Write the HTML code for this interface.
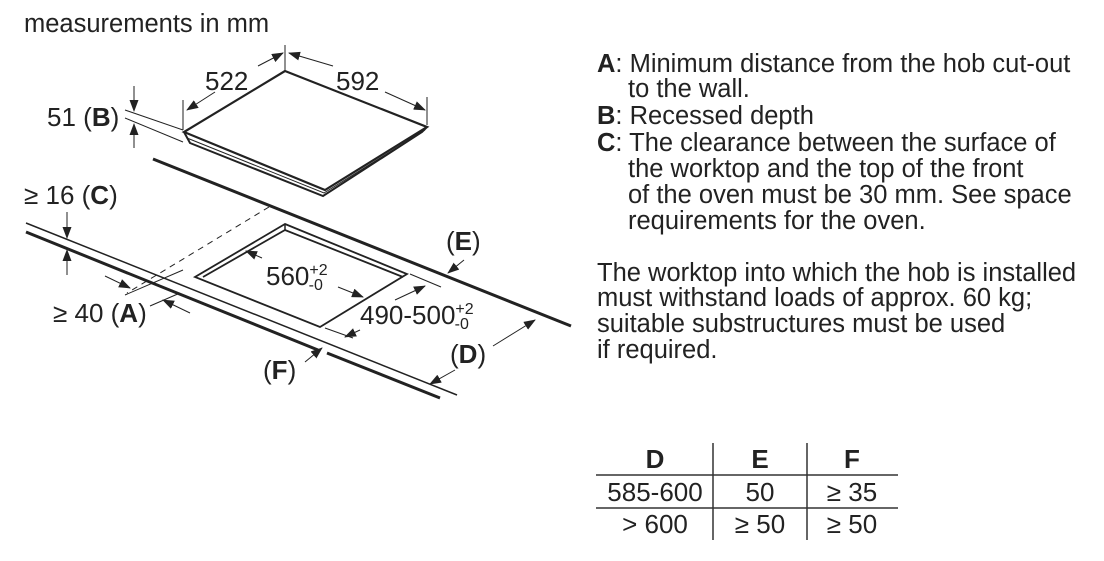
<!DOCTYPE html>
<html><head><meta charset="utf-8"><style>
html,body{margin:0;padding:0;background:#fff;}
svg{display:block}
text{font-family:"Liberation Sans",Arial,sans-serif;fill:#222;}
</style></head><body>
<svg width="1104" height="561" viewBox="0 0 1104 561" xmlns="http://www.w3.org/2000/svg">
<defs>
<marker id="ar" markerWidth="12" markerHeight="9" refX="11" refY="4.5" orient="auto" markerUnits="userSpaceOnUse">
<path d="M0,0 L12,4.5 L0,9 z" fill="#222"/></marker>
</defs>
<text x="24" y="32" font-size="25.5">measurements in mm</text>

<g stroke="#222" fill="none">
<!-- hob -->
<path d="M285,71 L427,127 L325,190 L184,132 Z" stroke-width="2.2" fill="#fff"/>
<path d="M184,132 L190,143 L323,196 L422,132 L427,127" stroke-width="2"/>
<path d="M187,138 L324,193 L425,130" stroke-width="1"/>
<!-- back line -->
<line x1="153" y1="159" x2="571" y2="326" stroke-width="3"/>
<!-- front lines -->
<line x1="26" y1="223" x2="457" y2="395" stroke-width="1.5"/>
<line x1="26" y1="232" x2="318" y2="350" stroke-width="3"/>
<line x1="327" y1="353" x2="440" y2="398" stroke-width="3"/>
<!-- dashed -->
<line x1="269" y1="207" x2="127" y2="293" stroke-width="1" stroke-dasharray="6,5"/>
<!-- cutout -->
<path d="M285,224 L407,274 L320,327 L195,277 Z" stroke-width="1.8"/>
<path d="M203,277 L285,230 L403,277" stroke-width="1.8"/>
<path d="M285,224 L285,230" stroke-width="1.5"/>

<g stroke-width="1">
<line x1="285" y1="45" x2="285" y2="70"/>
<line x1="183" y1="100" x2="183" y2="130"/>
<line x1="427" y1="97" x2="427" y2="125"/>
<line x1="258" y1="66" x2="283" y2="53" marker-end="url(#ar)"/>
<line x1="215" y1="92" x2="187" y2="110" marker-end="url(#ar)"/>
<line x1="333" y1="66" x2="289" y2="53" marker-end="url(#ar)"/>
<line x1="385" y1="92" x2="425" y2="110" marker-end="url(#ar)"/>
<line x1="125" y1="110" x2="183" y2="130"/>
<line x1="125" y1="118" x2="183" y2="142"/>
<line x1="134" y1="86" x2="134" y2="111" marker-end="url(#ar)"/>
<line x1="134" y1="148" x2="134" y2="124" marker-end="url(#ar)"/>
<line x1="67" y1="212" x2="67" y2="238" marker-end="url(#ar)"/>
<line x1="67" y1="275" x2="67" y2="250" marker-end="url(#ar)"/>
<line x1="105" y1="276" x2="130" y2="288" marker-end="url(#ar)"/>
<line x1="190" y1="313" x2="163" y2="300" marker-end="url(#ar)"/>
<line x1="125" y1="295" x2="183" y2="270"/>
<line x1="150" y1="306" x2="180" y2="293"/>
<line x1="262" y1="258" x2="246" y2="251" marker-end="url(#ar)"/>
<line x1="338" y1="287" x2="363" y2="297" marker-end="url(#ar)"/>
<line x1="410" y1="274" x2="441" y2="287"/>
<line x1="325" y1="328" x2="353" y2="338"/>
<line x1="395" y1="300" x2="425" y2="286" marker-end="url(#ar)"/>
<line x1="360" y1="330" x2="345" y2="337" marker-end="url(#ar)"/>
<line x1="464" y1="260" x2="448" y2="273" marker-end="url(#ar)"/>
<line x1="493" y1="346" x2="535" y2="320" marker-end="url(#ar)"/>
<line x1="455" y1="370" x2="430" y2="384" marker-end="url(#ar)"/>
<line x1="305" y1="362" x2="322" y2="348" marker-end="url(#ar)"/>
</g>
</g>

<g font-size="26">
<text x="205" y="90">522</text>
<text x="336" y="90">592</text>
<text x="47" y="126">51 (<tspan font-weight="bold">B</tspan>)</text>
<text x="24" y="204">≥ 16 (<tspan font-weight="bold">C</tspan>)</text>
<text x="53" y="322">≥ 40 (<tspan font-weight="bold">A</tspan>)</text>
<text x="266" y="285">560<tspan font-size="16" dy="-10">+2</tspan><tspan font-size="16" dx="-19" dy="15">-0</tspan></text>
<text x="360" y="324">490-500<tspan font-size="16" dy="-10">+2</tspan><tspan font-size="16" dx="-19" dy="15">-0</tspan></text>
<text x="446" y="250">(<tspan font-weight="bold">E</tspan>)</text>
<text x="450" y="363">(<tspan font-weight="bold">D</tspan>)</text>
<text x="263" y="379">(<tspan font-weight="bold">F</tspan>)</text>
</g>

<g font-size="25.5">
<text x="597" y="72"><tspan font-weight="bold">A</tspan>: Minimum distance from the hob cut-out</text>
<text x="628" y="97">to the wall.</text>
<text x="597" y="124"><tspan font-weight="bold">B</tspan>: Recessed depth</text>
<text x="597" y="151"><tspan font-weight="bold">C</tspan>: The clearance between the surface of</text>
<text x="628" y="177">the worktop and the top of the front</text>
<text x="628" y="203">of the oven must be 30 mm. See space</text>
<text x="628" y="229">requirements for the oven.</text>
<text x="597" y="281">The worktop into which the hob is installed</text>
<text x="597" y="306">must withstand loads of approx. 60 kg;</text>
<text x="597" y="332">suitable substructures must be used</text>
<text x="597" y="358">if required.</text>
</g>

<g stroke="#333" stroke-width="1.5">
<line x1="596" y1="475" x2="898" y2="475"/>
<line x1="596" y1="508" x2="898" y2="508"/>
<line x1="713" y1="443" x2="713" y2="540"/>
<line x1="807" y1="443" x2="807" y2="540"/>
</g>
<g font-size="26" text-anchor="middle">
<text x="655" y="468" font-weight="bold">D</text>
<text x="760" y="468" font-weight="bold">E</text>
<text x="852" y="468" font-weight="bold">F</text>
<text x="655" y="501">585-600</text>
<text x="760" y="501">50</text>
<text x="852" y="501">≥ 35</text>
<text x="655" y="533">&gt; 600</text>
<text x="760" y="533">≥ 50</text>
<text x="852" y="533">≥ 50</text>
</g>
</svg>
</body></html>
